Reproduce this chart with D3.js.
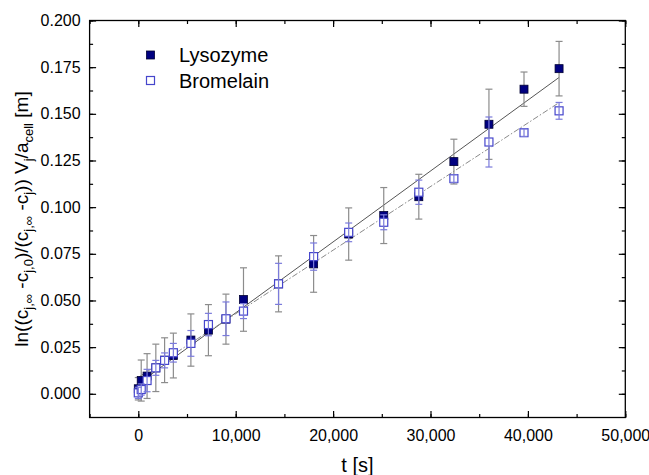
<!DOCTYPE html>
<html>
<head>
<meta charset="utf-8">
<script src="https://cdn.jsdelivr.net/npm/d3@7"></script>
<style>
  body { margin: 0; background: #fff; }
  text { font-family: Arial, "Liberation Sans", sans-serif; }
</style>
</head>
<body>
<div id="chart"></div>
<script>

// time points [s]
var times = [0, 300, 900, 1800, 2700, 3600, 5400, 7200, 9000, 10800, 14400,
             18000, 21600, 25200, 28800, 32400, 36000, 39600, 43200];

var lysozyme    = [0.0027, 0.0071, 0.0095, 0.0139, 0.0180, 0.0205, 0.0288, 0.0341, 0.0400, 0.0505, 0.0589,
                   0.0696, 0.0856, 0.0955, 0.1056, 0.1244, 0.1444, 0.1632, 0.1742];
var lysozymeErr = [0.0060, 0.0110, 0.0120, 0.0127, 0.0120, 0.0120, 0.0140, 0.0137, 0.0134, 0.0170, 0.0150,
                   0.0152, 0.0140, 0.0150, 0.0120, 0.0120, 0.0188, 0.0092, 0.0146];

var bromelain    = [0.0005, 0.0023, 0.0071, 0.0139, 0.0179, 0.0220, 0.0270, 0.0371, 0.0402, 0.0443, 0.0589,
                    0.0735, 0.0865, 0.0919, 0.1080, 0.1153, 0.1349, 0.1399, 0.1516];
var bromelainErr = [0.0030, 0.0030, 0.0060, 0.0040, 0.0040, 0.0050, 0.0069, 0.0060, 0.0090, 0.0040, 0.0110,
                    0.0073, 0.0050, 0.0040, 0.0065, 0.0020, 0.0134, 0.0020, 0.0045];

// linear fits (end points)
var fitTimes     = [0, 43200];
var lysozymeFit  = [0.0054, 0.1695];
var bromelainFit = [0.0088, 0.1560];

var xTicks = [0, 10000, 20000, 30000, 40000, 50000];
var yTicks = [0, 0.025, 0.05, 0.075, 0.1, 0.125, 0.15, 0.175, 0.2];

var width  = 649;
var height = 475;
var pLeft = 89.6, pRight = 625.3, pTop = 20.5, pBottom = 417.5;

var svg = d3.select("#chart").append("svg")
    .attr("width", width)
    .attr("height", height);

var x = d3.scaleLinear().domain([-5000, 50000]).range([pLeft, pRight]);
var y = d3.scaleLinear().domain([-0.0127, 0.2]).range([pBottom, pTop]);

var xMinor = d3.range(-5000, 50001, 5000);
var yMinor = d3.range(0, 0.2001, 0.0125);

// axes, ticks inside on all four sides
function addAxis(makeAxis, scale, tx, ty, major, minor, fmt, showLabels, pad) {
  var gMinor = svg.append("g").attr("transform", "translate(" + tx + "," + ty + ")")
      .call(makeAxis(scale).tickValues(minor).tickSize(-3.5).tickFormat(""));
  gMinor.select(".domain").remove();
  var g = svg.append("g").attr("transform", "translate(" + tx + "," + ty + ")")
      .call(makeAxis(scale).tickValues(major).tickSize(-6.5).tickPadding(pad).tickFormat(showLabels ? fmt : ""));
  g.select(".domain").remove();
  g.selectAll("line").attr("stroke", "#000").attr("stroke-width", 1.2);
  gMinor.selectAll("line").attr("stroke", "#000").attr("stroke-width", 1.2);
  g.selectAll("text").attr("font-size", 16).attr("fill", "#000").attr("font-family", null);
  return g;
}

addAxis(d3.axisBottom, x, 0, pBottom, xTicks, xMinor, d3.format(","), true, 12.5);
addAxis(d3.axisTop, x, 0, pTop, xTicks, xMinor, d3.format(","), false, 3);
addAxis(d3.axisLeft, y, pLeft, 0, yTicks, yMinor, d3.format(".3f"), true, 9);
addAxis(d3.axisRight, y, pRight, 0, yTicks, yMinor, d3.format(".3f"), false, 3);

svg.append("rect")
    .attr("x", pLeft).attr("y", pTop)
    .attr("width", pRight - pLeft).attr("height", pBottom - pTop)
    .attr("fill", "none").attr("stroke", "#000").attr("stroke-width", 1.3);

// fit lines
var line = d3.line().x(function(d) { return x(d[0]); }).y(function(d) { return y(d[1]); });

svg.append("path")
    .datum(d3.zip(fitTimes, lysozymeFit))
    .attr("d", line)
    .attr("fill", "none").attr("stroke", "#555").attr("stroke-width", 1);

svg.append("path")
    .datum(d3.zip(fitTimes, bromelainFit))
    .attr("d", line)
    .attr("fill", "none").attr("stroke", "#8a8a8a").attr("stroke-width", 1)
    .attr("stroke-dasharray", "6,2,1.5,2");

function errorBars(vals, errs, color) {
  var g = svg.append("g").attr("stroke", color).attr("stroke-width", 1.2).attr("fill", "none");
  var cap = 3.5;
  times.forEach(function(t, i) {
    var cx = x(t), y1 = y(vals[i] + errs[i]), y2 = y(vals[i] - errs[i]);
    g.append("line").attr("x1", cx).attr("x2", cx).attr("y1", y1).attr("y2", y2);
    g.append("line").attr("x1", cx - cap).attr("x2", cx + cap).attr("y1", y1).attr("y2", y1);
    g.append("line").attr("x1", cx - cap).attr("x2", cx + cap).attr("y1", y2).attr("y2", y2);
  });
}

var size = 8;

errorBars(lysozyme, lysozymeErr, "#8c8c8c");

svg.append("g").selectAll("rect")
    .data(d3.zip(times, lysozyme))
    .enter().append("rect")
    .attr("x", function(d) { return x(d[0]) - size / 2; })
    .attr("y", function(d) { return y(d[1]) - size / 2; })
    .attr("width", size).attr("height", size)
    .attr("fill", "#000080").attr("stroke", "#000033").attr("stroke-width", 0.8);

svg.append("g").selectAll("rect")
    .data(d3.zip(times, bromelain))
    .enter().append("rect")
    .attr("x", function(d) { return x(d[0]) - size / 2; })
    .attr("y", function(d) { return y(d[1]) - size / 2; })
    .attr("width", size).attr("height", size)
    .attr("fill", "#fff").attr("stroke", "#4646cc").attr("stroke-width", 1.2);

errorBars(bromelain, bromelainErr, "#7b7bdb");

// legend
var legend = svg.append("g");
legend.append("rect").attr("x", 146.5).attr("y", 51).attr("width", 8).attr("height", 8)
    .attr("fill", "#000080").attr("stroke", "#000033").attr("stroke-width", 0.8);
legend.append("text").attr("x", 179).attr("y", 62).attr("font-size", 20).text("Lysozyme");
legend.append("rect").attr("x", 146.5).attr("y", 76.5).attr("width", 8).attr("height", 8)
    .attr("fill", "#fff").attr("stroke", "#4646cc").attr("stroke-width", 1.2);
legend.append("text").attr("x", 179).attr("y", 87.5).attr("font-size", 20).text("Bromelain");

// axis titles
svg.append("text")
    .attr("x", (pLeft + pRight) / 2).attr("y", 472)
    .attr("text-anchor", "middle").attr("font-size", 20)
    .text("t [s]");

var yTitle = svg.append("text")
    .attr("transform", "translate(28," + ((pTop + pBottom) / 2) + ") rotate(-90)")
    .attr("text-anchor", "middle").attr("font-size", 19);

var parts = [["ln((c", 0], ["j,\u221E", 1], [" -c", 0], ["j,0", 1], [")/(c", 0], ["j,\u221E", 1],
             [" -c", 0], ["j", 1], [")) V", 0], ["j", 1], ["/a", 0], ["cell", 1], [" [m]", 0]];
var shifted = false;
parts.forEach(function(p) {
  var ts = yTitle.append("tspan").text(p[0]);
  if (p[1] && !shifted) { ts.attr("dy", 5).attr("font-size", 13); shifted = true; }
  else if (p[1]) { ts.attr("font-size", 13); }
  else if (shifted) { ts.attr("dy", -5); shifted = false; }
});

</script>
</body>
</html>
